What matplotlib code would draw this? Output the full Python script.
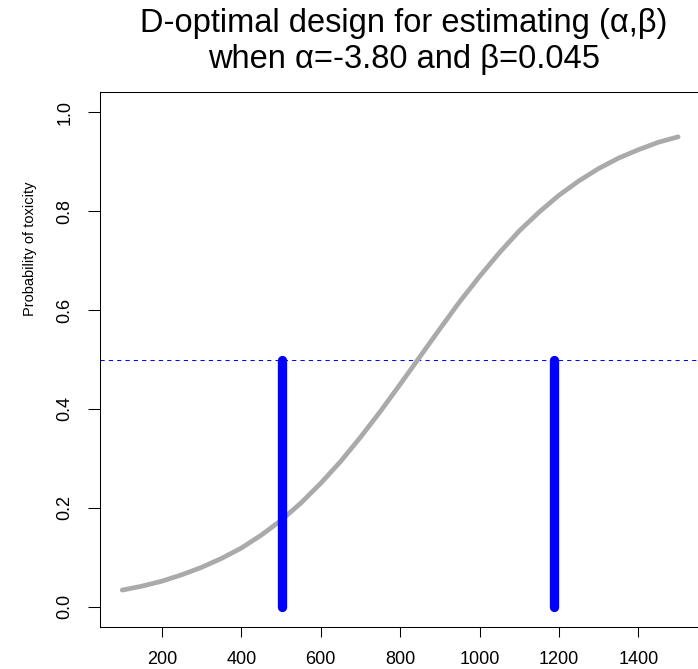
import numpy as np
import matplotlib
matplotlib.use("Agg")
import matplotlib.pyplot as plt

plt.rcParams['font.family'] = ['Liberation Sans', 'DejaVu Sans']

# dose-toxicity curve
dose = [100, 150, 200, 250, 300, 350, 400, 450, 500, 550, 600, 650, 700, 750,
        800, 850, 900, 950, 1000, 1050, 1100, 1150, 1200, 1250, 1300, 1350,
        1400, 1450, 1500]
ptox = [0.034, 0.042, 0.052, 0.065, 0.080, 0.098, 0.119, 0.145, 0.175, 0.210,
        0.250, 0.294, 0.343, 0.395, 0.450, 0.506, 0.562, 0.617, 0.668, 0.716,
        0.760, 0.798, 0.832, 0.861, 0.886, 0.907, 0.924, 0.939, 0.950]

# design points
design = [501.5, 1187.4]
design_top = 0.5

xticks = [200, 400, 600, 800, 1000, 1200, 1400]
yticks = [0.0, 0.2, 0.4, 0.6, 0.8, 1.0]

W, H = 698, 669
fig = plt.figure(figsize=(W / 100, H / 100), dpi=100)
left, right, top, bottom = 100, 700.4, 92.3, 626.7
ax = fig.add_axes([left / W, 1 - bottom / H, (right - left) / W, (bottom - top) / H])

ax.plot(dose, ptox, color='#AAAAAA', lw=3.4, solid_capstyle='round', zorder=2)
ax.axhline(0.5, color='blue', lw=0.75, ls=(0, (4, 4)), zorder=1)
for d in design:
    ax.plot([d, d], [0, design_top], color='blue', lw=6.7,
            solid_capstyle='round', zorder=3)

ax.set_xlim(44, 1556)
ax.set_ylim(-0.04, 1.04)
ax.set_xticks(xticks)
ax.set_xticklabels([str(t) for t in xticks])
ax.set_yticks(yticks)
ax.set_yticklabels(['%.1f' % t for t in yticks], rotation=90, va='center')
ax.tick_params(axis='x', length=7.2, width=0.75, pad=10, labelsize=13)
ax.tick_params(axis='y', length=8.4, width=0.75, pad=10.5, labelsize=13)
for s in ax.spines.values():
    s.set_linewidth(0.75)

fig.text(30 / W, 1 - 249 / H, 'Probability of toxicity', rotation=90,
         ha='center', va='center', fontsize=10.5)
# last line baseline sits at y=68 px
fig.text(404 / W, 1 - 68 / H,
         'D-optimal design for estimating (\u03b1,\u03b2)\nwhen \u03b1=-3.80 and \u03b2=0.045',
         ha='center', va='baseline', fontsize=23.5, linespacing=1.2)

fig.savefig('out.png', dpi=100)
